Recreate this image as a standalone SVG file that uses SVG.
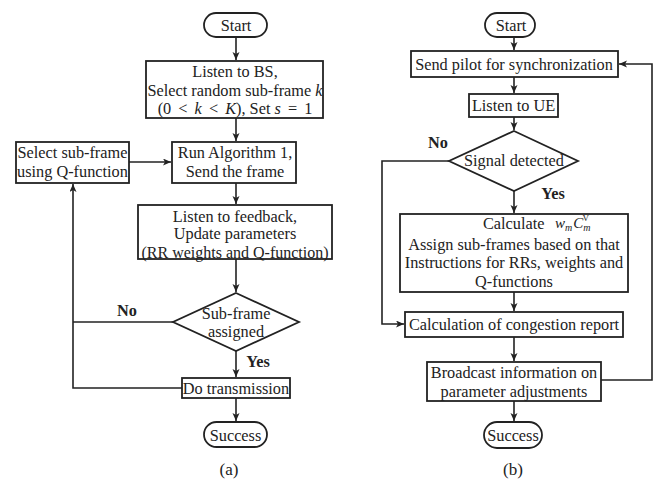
<svg xmlns="http://www.w3.org/2000/svg" width="663" height="483" viewBox="0 0 663 483">
<style>
.box{fill:#fff;stroke:#222;stroke-width:1.8}
.ln{fill:none;stroke:#222;stroke-width:1.6}
.t{font-family:"Liberation Serif","Times New Roman",serif;font-size:16.3px;fill:#222;text-anchor:middle}
.b{font-family:"Liberation Serif","Times New Roman",serif;font-size:16.3px;font-weight:bold;fill:#222;text-anchor:middle}
.i{font-style:italic}
.m{font-family:"Liberation Serif","Times New Roman",serif;font-style:italic;fill:#222}
</style>
<defs>
<marker id="ah" markerUnits="userSpaceOnUse" markerWidth="9" markerHeight="8" refX="8" refY="3.5" orient="auto">
<path d="M0,0 L8,3.5 L0,7 L2,3.5 z" fill="#222"/>
</marker>
</defs>

<g id="connectors">
<!-- (a) -->
<line class="ln" x1="236" y1="37" x2="236" y2="60" marker-end="url(#ah)"/>
<line class="ln" x1="236" y1="118" x2="236" y2="141" marker-end="url(#ah)"/>
<line class="ln" x1="129" y1="162" x2="171" y2="162" marker-end="url(#ah)"/>
<line class="ln" x1="236" y1="183" x2="236" y2="204" marker-end="url(#ah)"/>
<line class="ln" x1="236" y1="259" x2="236" y2="292" marker-end="url(#ah)"/>
<line class="ln" x1="236" y1="351" x2="236" y2="377" marker-end="url(#ah)"/>
<line class="ln" x1="236" y1="398" x2="236" y2="421" marker-end="url(#ah)"/>
<polyline class="ln" points="173,322 73,322"/>
<polyline class="ln" points="182,388 73,388 73,184" marker-end="url(#ah)"/>
<!-- (b) -->
<line class="ln" x1="514" y1="37" x2="514" y2="50" marker-end="url(#ah)"/>
<line class="ln" x1="514" y1="77" x2="514" y2="93" marker-end="url(#ah)"/>
<line class="ln" x1="514" y1="117" x2="514" y2="130" marker-end="url(#ah)"/>
<line class="ln" x1="514" y1="191" x2="514" y2="213" marker-end="url(#ah)"/>
<line class="ln" x1="514" y1="292" x2="514" y2="311" marker-end="url(#ah)"/>
<line class="ln" x1="514" y1="337" x2="514" y2="361" marker-end="url(#ah)"/>
<line class="ln" x1="514" y1="401" x2="514" y2="421" marker-end="url(#ah)"/>
<polyline class="ln" points="449,161 382,161 382,324 404,324" marker-end="url(#ah)"/>
<polyline class="ln" points="601,380 652,380 652,64 619,64" marker-end="url(#ah)"/>
</g>

<!-- (a) nodes -->
<g id="a-start">
<rect class="box" x="204" y="13" width="63" height="24" rx="12"/>
<text class="t" x="236" y="31">Start</text>
</g>
<g id="a-listen-bs">
<rect class="box" x="146" y="61" width="177" height="57"/>
<text class="t" x="235" y="77">Listen to BS,</text>
<text class="t" x="235" y="96">Select random sub-frame <tspan class="i">k</tspan></text>
<text class="t" x="235" y="114">(0 <tspan dx="3">&lt;</tspan> <tspan dx="3" class="i">k</tspan> <tspan dx="3">&lt;</tspan> <tspan dx="3" class="i">K</tspan>), Set <tspan class="i">s</tspan> <tspan dx="3">=</tspan> <tspan dx="3">1</tspan></text>
</g>
<g id="a-select">
<rect class="box" x="16" y="142" width="113" height="41"/>
<text class="t" x="72.5" y="158">Select sub-frame</text>
<text class="t" x="72.5" y="177">using Q-function</text>
</g>
<g id="a-run">
<rect class="box" x="172" y="142" width="124" height="41"/>
<text class="t" x="235" y="158">Run Algorithm 1,</text>
<text class="t" x="235" y="177">Send the frame</text>
</g>
<g id="a-feedback">
<rect class="box" x="138" y="205" width="194" height="54"/>
<text class="t" x="235" y="221.5">Listen to feedback,</text>
<text class="t" x="235" y="239">Update parameters</text>
<text class="t" x="235" y="257.5" style="font-size:16px">(RR weights and Q-function)</text>
</g>
<g id="a-decision">
<polygon class="box" points="236,293 299,322 236,351 173,322"/>
<text class="t" x="236" y="319">Sub-frame</text>
<text class="t" x="236" y="337">assigned</text>
</g>
<text class="b" x="127" y="316">No</text>
<text class="b" x="258" y="367">Yes</text>
<g id="a-transmit">
<rect class="box" x="182" y="378" width="108" height="20"/>
<text class="t" x="236" y="394">Do transmission</text>
</g>
<g id="a-success">
<rect class="box" x="204" y="422" width="63" height="25" rx="12.5"/>
<text class="t" x="235.5" y="441">Success</text>
</g>
<text class="t" x="229" y="475" style="font-size:17px">(a)</text>

<!-- (b) nodes -->
<g id="b-start">
<rect class="box" x="485" y="13" width="50" height="24" rx="12"/>
<text class="t" x="511" y="31">Start</text>
</g>
<g id="b-pilot">
<rect class="box" x="411" y="51" width="207" height="26"/>
<text class="t" x="514" y="70">Send pilot for synchronization</text>
</g>
<g id="b-listen-ue">
<rect class="box" x="469" y="94" width="89" height="23"/>
<text class="t" x="513.5" y="111">Listen to UE</text>
</g>
<g id="b-decision">
<polygon class="box" points="514,131 578,161 514,191 449,161"/>
<text class="t" x="514" y="166">Signal detected</text>
</g>
<text class="b" x="438" y="148">No</text>
<text class="b" x="553" y="199">Yes</text>
<g id="b-calculate">
<rect class="box" x="400" y="214" width="228" height="78"/>
<text class="t" x="483" y="229" style="text-anchor:start">Calculate</text>
<text class="m" x="555" y="228" style="font-size:15px">w<tspan dy="3" style="font-size:10px">m</tspan><tspan dx="1" dy="-3" style="font-size:15px">C</tspan><tspan dy="3" style="font-size:10px">m</tspan><tspan dx="-8" dy="-10" style="font-size:9px;font-style:normal">V</tspan></text>
<text class="t" x="514" y="249.5">Assign sub-frames based on that</text>
<text class="t" x="514" y="268">Instructions for RRs, weights and</text>
<text class="t" x="514" y="287">Q-functions</text>
</g>
<g id="b-congestion">
<rect class="box" x="405" y="312" width="218" height="25"/>
<text class="t" x="514" y="330">Calculation of congestion report</text>
</g>
<g id="b-broadcast">
<rect class="box" x="427" y="362" width="174" height="39"/>
<text class="t" x="514" y="378">Broadcast information on</text>
<text class="t" x="514" y="397">parameter adjustments</text>
</g>
<g id="b-success">
<rect class="box" x="484" y="422" width="58" height="26" rx="13"/>
<text class="t" x="513" y="441">Success</text>
</g>
<text class="t" x="513" y="475" style="font-size:17px">(b)</text>
</svg>
